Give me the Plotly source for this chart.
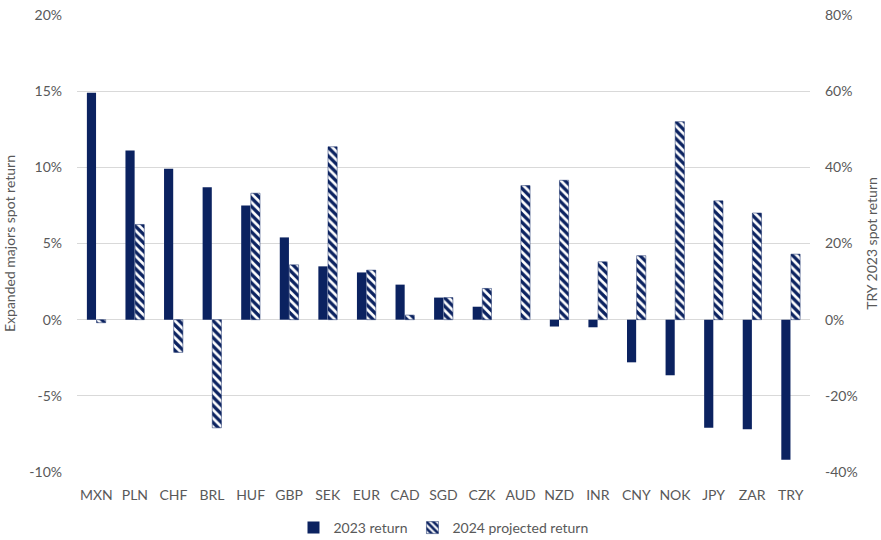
import plotly.graph_objects as go

categories = ["MXN", "PLN", "CHF", "BRL", "HUF", "GBP", "SEK", "EUR", "CAD", "SGD",
              "CZK", "AUD", "NZD", "INR", "CNY", "NOK", "JPY", "ZAR"]
ret_2023 = [14.9, 11.1, 9.9, 8.7, 7.5, 5.4, 3.5, 3.1, 2.3, 1.45,
            0.85, 0.0, -0.45, -0.5, -2.8, -3.65, -7.1, -7.2]
proj_2024 = [-0.2, 6.25, -2.15, -7.1, 8.3, 3.6, 11.35, 3.25, 0.3, 1.45,
             2.05, 8.8, 9.15, 3.8, 4.2, 13.0, 7.8, 7.0]

try_cat = ["TRY"]
try_2023 = [-36.8]
try_2024 = [17.2]

all_cats = categories + try_cat

NAVY = "#0b2260"
GRID = "#d9d9d9"
TEXT = "#595959"
FONT = "Lato, Open Sans, sans-serif"

fig = go.Figure()

fig.add_trace(go.Bar(
    x=categories, y=ret_2023, name="2023 return",
    marker=dict(color=NAVY, line=dict(width=0)),
    offsetgroup="a", alignmentgroup="g", legendrank=1,
))
fig.add_trace(go.Bar(
    x=categories, y=proj_2024, name="2024 projected return",
    marker=dict(color=NAVY, line=dict(width=0.5, color=NAVY),
                pattern=dict(shape="\\", fillmode="replace", bgcolor="white",
                             fgcolor=NAVY, size=6, solidity=0.55)),
    offsetgroup="b", alignmentgroup="g", legendrank=2,
))
fig.add_trace(go.Bar(
    x=try_cat, y=try_2023, name="2023 return", showlegend=False,
    marker=dict(color=NAVY, line=dict(width=0)),
    offsetgroup="a", alignmentgroup="g", yaxis="y2",
))
fig.add_trace(go.Bar(
    x=try_cat, y=try_2024, name="2024 projected return", showlegend=False,
    marker=dict(color=NAVY, line=dict(width=0.5, color=NAVY),
                pattern=dict(shape="\\", fillmode="replace", bgcolor="white",
                             fgcolor=NAVY, size=6, solidity=0.55)),
    offsetgroup="b", alignmentgroup="g", yaxis="y2",
))

fig.update_layout(
    width=881, height=540,
    margin=dict(l=77, r=71, t=15, b=68, autoexpand=False),
    paper_bgcolor="white", plot_bgcolor="white",
    font=dict(family=FONT, size=14, color=TEXT),
    barmode="group", bargap=0.5, bargroupgap=0.05,
    showlegend=True,
    legend=dict(orientation="h", x=0.5, xanchor="center",
                yref="container", y=12 / 540, yanchor="middle",
                font=dict(size=14, color=TEXT), itemwidth=30,
                traceorder="normal"),
    xaxis=dict(categoryorder="array", categoryarray=all_cats, automargin=False,
               showgrid=False, showline=False, zeroline=False, ticks="",
               ticklabelstandoff=13,
               tickfont=dict(size=14, color=TEXT)),
    yaxis=dict(range=[-10, 20], tickvals=[-10, -5, 0, 5, 10, 15, 20],
               ticktext=["-10%", "-5%", "0%", "5%", "10%", "15%", "20%"],
               showgrid=True, gridcolor=GRID, gridwidth=1, automargin=False,
               zeroline=True, zerolinecolor=GRID, zerolinewidth=1,
               ticks="", ticklabelstandoff=14,
               title=dict(text="Expanded majors spot return", font=dict(size=14, color=TEXT),
                          standoff=10)),
    yaxis2=dict(range=[-40, 80], tickvals=[-40, -20, 0, 20, 40, 60, 80],
                ticktext=["-40%", "-20%", "0%", "20%", "40%", "60%", "80%"],
                overlaying="y", side="right", showgrid=False, zeroline=False,
                automargin=False,
                ticks="", ticklabelstandoff=14,
                title=dict(text="TRY 2023 spot return", font=dict(size=14, color=TEXT),
                           standoff=10)),
)

fig.write_html("out.html")
